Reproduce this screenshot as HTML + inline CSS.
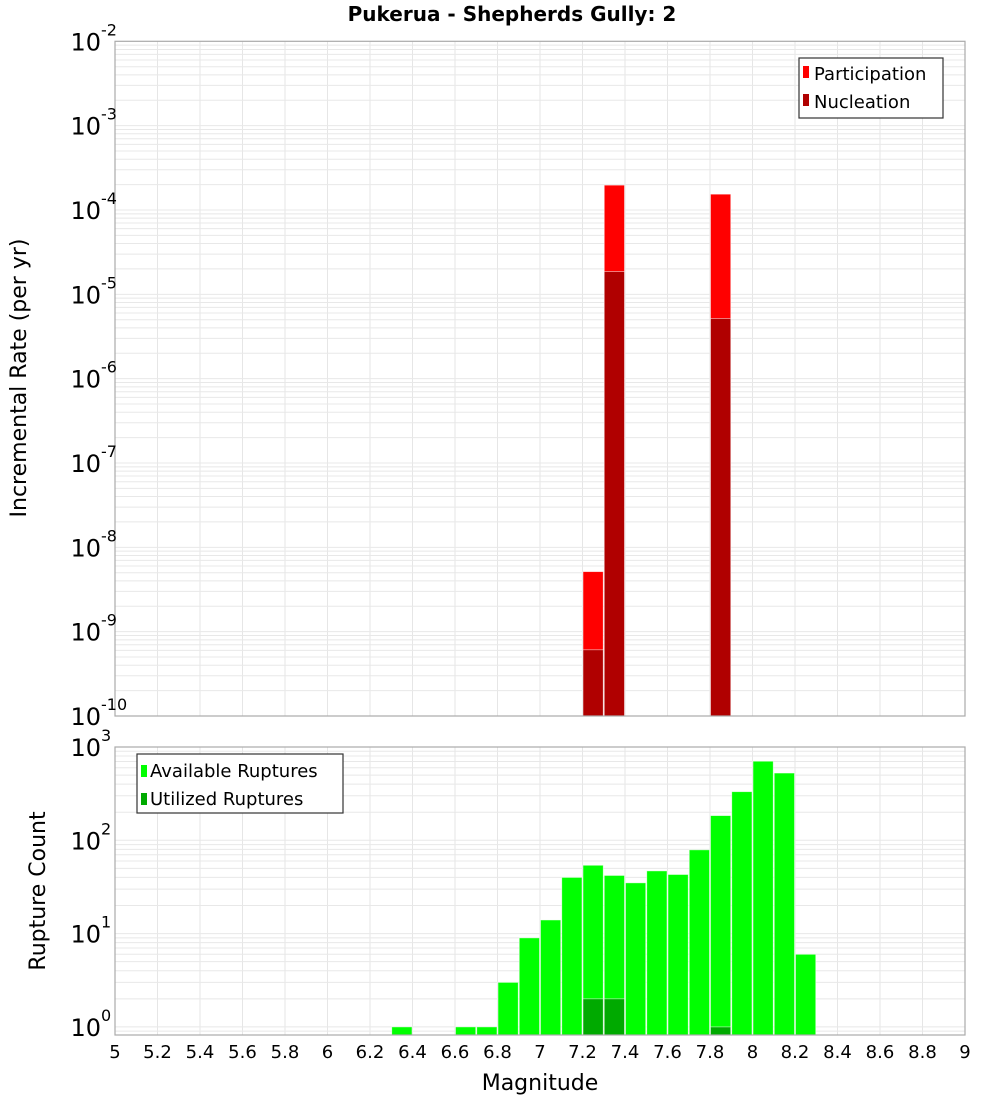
<!DOCTYPE html>
<html><head><meta charset="utf-8"><style>
body{margin:0;background:#fff;}
svg{display:block;font-family:"DejaVu Sans","Liberation Sans",sans-serif;}
</style></head><body>
<svg id="chart" width="1000" height="1100">
<text x="512" y="21" text-anchor="middle" font-size="20" font-weight="bold">Pukerua - Shepherds Gully: 2</text>
<g id="top"></g>
<g id="bot"></g>
<text transform="translate(26,378) rotate(-90)" text-anchor="middle" font-size="22">Incremental Rate (per yr)</text>
<text transform="translate(45,891) rotate(-90)" text-anchor="middle" font-size="22">Rupture Count</text>
<text x="540" y="1090" text-anchor="middle" font-size="22">Magnitude</text>
<g>
<rect x="799" y="58" width="144" height="60" fill="#fff" stroke="#333" stroke-width="1.2"/>
<rect x="803" y="66" width="6" height="12" fill="#ff0000"/>
<text x="814" y="80" font-size="18">Participation</text>
<rect x="803" y="94" width="6" height="12" fill="#b00000"/>
<text x="814" y="108" font-size="18">Nucleation</text>
</g>
<g>
<rect x="137" y="754" width="206" height="59" fill="#fff" stroke="#333" stroke-width="1.2"/>
<rect x="141" y="765" width="6" height="12" fill="#00ff00"/>
<text x="150" y="777" font-size="18">Available Ruptures</text>
<rect x="141" y="793" width="6" height="12" fill="#00aa00"/>
<text x="150" y="805" font-size="18">Utilized Ruptures</text>
</g>
</svg>
<script>
const xTicks=[5,5.2,5.4,5.6,5.8,6,6.2,6.4,6.6,6.8,7,7.2,7.4,7.6,7.8,8,8.2,8.4,8.6,8.8,9];
const rateMags=[7.25,7.35,7.85];
const participation=[5.15e-9,1.97e-4,1.54e-4];
const nucleation=[6.1e-10,1.86e-5,5.16e-6];
const countMags=[6.35,6.65,6.75,6.85,6.95,7.05,7.15,7.25,7.35,7.45,7.55,7.65,7.75,7.85,7.95,8.05,8.15,8.25];
const available=[1,1,1,3,9,14,40,54,42,35,47,43,79,184,332,704,526,6];
const utilMags=[7.25,7.35,7.85];
const utilized=[2,2,1];
const topDecades=[-10,-9,-8,-7,-6,-5,-4,-3,-2];
const botDecades=[0,1,2,3];

const NS='http://www.w3.org/2000/svg';
const X0=115,X1=965;
const xs=v=>X0+(v-5)/4*(X1-X0);
const T={top:41.3,bot:716,lmin:-10,lmax:-2};
const B={top:747,bot:1035,l0:3,pxd:93.3,y0:747};
const ty=v=>T.top+(T.lmax-Math.log10(v))/(T.lmax-T.lmin)*(T.bot-T.top);
const by=v=>Math.min(B.bot,B.y0+(B.l0-Math.log10(v))*B.pxd);
function el(p,tag,at){const e=document.createElementNS(NS,tag);for(const k in at)e.setAttribute(k,at[k]);p.appendChild(e);return e;}
function grid(g,top,bot,yf,minD,maxD){
  for(const t of xTicks){const l=el(g,'line',{x1:xs(t),x2:xs(t),y1:top,y2:bot,stroke:'#e6e6e6'});
  
  }
  for(let d=minD;d<=maxD;d++)for(let m=1;m<10;m++){const v=m*Math.pow(10,d);const y=yf(v);if(y<top-0.5||y>bot+0.5)continue;
    const l=el(g,'line',{x1:X0,x2:X1,y1:y,y2:y,stroke:'#e8e8e8'});
    
    }
}
function frame(g,top,bot){const r=el(g,'rect',{x:X0,y:top,width:X1-X0,height:bot-top,fill:'none',stroke:'#aaa','stroke-width':1.2});

}
function bar(g,m,y,bot,fill,name){const w=xs(5.1)-xs(5);const r=el(g,'rect',{x:xs(m)-w/2+0.5,y:y,width:w-1,height:bot-y,fill:fill,stroke:'rgba(255,255,255,0.6)','stroke-width':0.8});

}
function ylab(g,d,y){const t=el(g,'text',{x:101,y:y+9,'text-anchor':'end','font-size':24});t.textContent='10';


const s=el(g,'text',{x:101,y:y-6,'font-size':16,'text-anchor':'start'});s.textContent=String(d);}
// top
const gt=document.getElementById('top');
grid(gt,T.top,T.bot,ty,-10,-3);
participation.forEach((v,i)=>bar(gt,rateMags[i],ty(v),T.bot,'#ff0000','participation-bar'));
nucleation.forEach((v,i)=>bar(gt,rateMags[i],ty(v),T.bot,'#b00000','nucleation-bar'));
frame(gt,T.top,T.bot);
topDecades.forEach(d=>ylab(gt,d,ty(Math.pow(10,d))));
// bottom
const gb=document.getElementById('bot');
grid(gb,B.top,B.bot,by,-1,2);
available.forEach((v,i)=>bar(gb,countMags[i],by(v),B.bot,'#00ff00','available-bar'));
utilized.forEach((v,i)=>bar(gb,utilMags[i],by(v),B.bot,'#00aa00','utilized-bar'));
frame(gb,B.top,B.bot);
botDecades.forEach(d=>ylab(gb,d,by(Math.pow(10,d))));
xTicks.forEach(t=>{const e=el(gb,'text',{x:xs(t),y:1058,'text-anchor':'middle','font-size':18});e.textContent=String(t);

});
</script>
</body></html>
